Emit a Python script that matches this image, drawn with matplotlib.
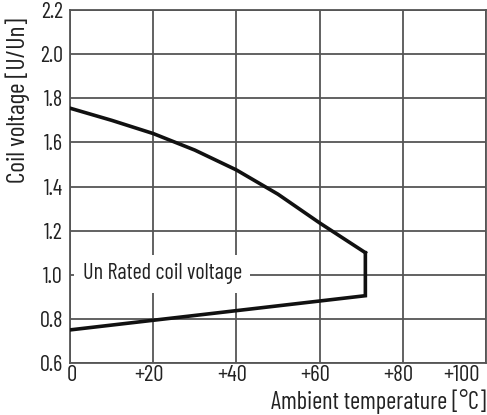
import matplotlib
matplotlib.use("Agg")
import matplotlib.pyplot as plt
import matplotlib.transforms as mtransforms

plt.rcParams['font.family'] = ['Barlow Condensed', 'DejaVu Sans']

# === DATA ===
# upper limit curve (max voltage) and lower limit (min voltage) vs ambient temperature
temp_upper = [0, 10, 20, 30, 40, 50, 60, 71]
volt_upper = [1.755, 1.70, 1.64, 1.565, 1.475, 1.365, 1.235, 1.10]
temp_lower = [71, 71, 0]
volt_lower = [1.10, 0.905, 0.75]

x_ticks = [0, 20, 40, 60, 80, 100]
x_tick_labels = ["0", "+20", "+40", "+60", "+80", "+100"]
y_ticks = [0.6, 0.8, 1.0, 1.2, 1.4, 1.6, 1.8, 2.0, 2.2]
y_tick_labels = ["0.6", "0.8", "1.0", "1.2", "1.4", "1.6", "1.8", "2.0", "2.2"]

# === PLOT ===
fig = plt.figure(figsize=(4.87, 4.15), dpi=100)
ax = fig.add_axes([70 / 487, 1 - 363 / 415, 416 / 487, 353 / 415])

ax.plot(temp_upper, volt_upper, color='#111111', lw=2.6, zorder=4,
        solid_joinstyle='miter')
ax.plot(temp_lower, volt_lower, color='#111111', lw=2.6, zorder=4,
        solid_joinstyle='miter')

ax.set_xlim(0, 100)
ax.set_ylim(0.6, 2.2)
ax.set_xticks(x_ticks)
ax.set_xticklabels(x_tick_labels, fontsize=16.5, color='#222222')
ax.set_yticks(y_ticks)
ax.set_yticklabels(y_tick_labels, fontsize=16, color='#222222')
ax.tick_params(axis='both', length=0)
ax.tick_params(axis='x', pad=1.5)
ax.tick_params(axis='y', pad=5)

# digits centred on the gridline, last label pulled inside
offsets_px = [2, -4, -4, -4, -4, -24]
for lab, dx in zip(ax.get_xticklabels(), offsets_px):
    lab.set_transform(lab.get_transform() +
                      mtransforms.ScaledTranslation(dx / 100, 0, fig.dpi_scale_trans))

ax.grid(True, color='#555555', lw=1.3)
ax.set_axisbelow(True)
for sp in ax.spines.values():
    sp.set_color('#555555')
    sp.set_linewidth(1.3)

ax.text(3.1, 1.005, "Un Rated coil voltage", fontsize=16, color='#222222',
        va='center', ha='left', zorder=3,
        bbox=dict(facecolor='white', edgecolor='none', pad=6))

ax.set_ylabel("Coil voltage [U/Un]", fontsize=18.5, color='#222222', loc='top')
ax.yaxis.set_label_coords(-40 / 416, 0.977)
ax.set_xlabel("Ambient temperature [°C]", fontsize=17.5, color='#222222', loc='right')
ax.xaxis.set_label_coords(1.0, -0.073)

fig.savefig("out.png", dpi=100)
